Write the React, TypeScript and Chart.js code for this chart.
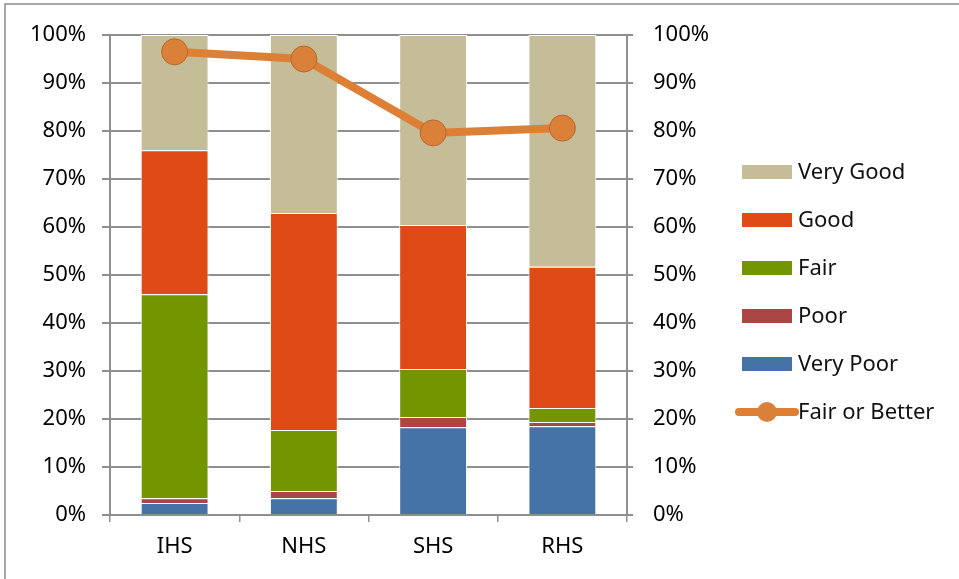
import React, { useEffect, useRef } from "react";
import { Chart, registerables } from "chart.js";

Chart.register(...registerables);

const categories = ["IHS", "NHS", "SHS", "RHS"];
const veryPoor = [2.5, 3.5, 18.3, 18.5];
const poor = [1.0, 1.5, 2.1, 0.9];
const fair = [42.5, 12.7, 10.0, 2.9];
const good = [30.0, 45.2, 30.0, 29.4];
const veryGood = [24.0, 37.1, 39.6, 48.3];
const fairOrBetter = [96.5, 95.0, 79.6, 80.6];
const tickValues = [0, 10, 20, 30, 40, 50, 60, 70, 80, 90, 100];

const seriesNames = ["Very Good", "Good", "Fair", "Poor", "Very Poor", "Fair or Better"];
const seriesColors = ["#C4BD97", "#DF4A16", "#739500", "#AA4643", "#4572A7", "#DE7F36"];

const FONT = "'Noto Sans', 'Open Sans', sans-serif";

const framePlugin = {
  id: "frame",
  beforeDraw(chart: any) {
    const ctx = chart.ctx;
    ctx.save();
    ctx.strokeStyle = "#8a8a8a";
    ctx.lineWidth = 1.5;
    ctx.beginPath();
    ctx.moveTo(5, 600);
    ctx.lineTo(5, 4);
    ctx.lineTo(970, 4);
    ctx.stroke();
    ctx.restore();
  },
};

const legendPlugin = {
  id: "customLegend",
  afterDraw(chart: any) {
    const ctx = chart.ctx;
    ctx.save();
    const x0 = 742;
    const y0 = 172;
    const step = 48;
    ctx.font = `22px ${FONT}`;
    ctx.textBaseline = "middle";
    ctx.textAlign = "left";
    seriesNames.forEach((name, i) => {
      const y = y0 + i * step;
      if (i < 5) {
        ctx.fillStyle = seriesColors[i];
        ctx.fillRect(x0, y - 7, 50, 14);
      } else {
        ctx.strokeStyle = seriesColors[i];
        ctx.lineWidth = 8;
        ctx.lineCap = "round";
        ctx.beginPath();
        ctx.moveTo(x0 - 3, y);
        ctx.lineTo(x0 + 53, y);
        ctx.stroke();
        ctx.fillStyle = "#DB8038";
        ctx.beginPath();
        ctx.arc(x0 + 25, y, 10, 0, Math.PI * 2);
        ctx.fill();
      }
      ctx.fillStyle = "#111";
      ctx.fillText(name, 798, y + 1);
    });
    ctx.restore();
  },
};

export default function App() {
  const ref = useRef<HTMLCanvasElement>(null);
  useEffect(() => {
    if (!ref.current) return;
    const pct = (v: any) => `${v}%`;
    const chart = new Chart(ref.current, {
      type: "bar",
      data: {
        labels: categories,
        datasets: [
          {
            type: "line",
            label: seriesNames[5],
            data: fairOrBetter,
            yAxisID: "y1",
            borderColor: seriesColors[5],
            borderWidth: 8,
            backgroundColor: "#DB8038",
            pointBackgroundColor: "#DB8038",
            pointBorderColor: "#B8672E",
            pointBorderWidth: 1,
            pointRadius: 13,
            tension: 0,
          } as any,
          { label: seriesNames[4], data: veryPoor, backgroundColor: seriesColors[4] },
          { label: seriesNames[3], data: poor, backgroundColor: seriesColors[3] },
          { label: seriesNames[2], data: fair, backgroundColor: seriesColors[2] },
          { label: seriesNames[1], data: good, backgroundColor: seriesColors[1] },
          { label: seriesNames[0], data: veryGood, backgroundColor: seriesColors[0] },
        ].map((d: any) =>
          d.type === "line"
            ? d
            : { ...d, borderColor: "#ffffff", borderWidth: 1, barPercentage: 0.525, categoryPercentage: 1 }
        ),
      },
      options: {
        animation: false,
        responsive: false,
        layout: { padding: { left: 0, top: 35, right: 242, bottom: 0 } },
        plugins: { legend: { display: false }, tooltip: { enabled: false } },
        scales: {
          x: {
            stacked: true,
            grid: {
              offset: true,
              drawOnChartArea: false,
              drawTicks: true,
              tickLength: 7,
              color: "#8f8f8f",
              lineWidth: 1.5,
            },
            border: { display: false },
            ticks: { color: "#000", font: { family: FONT, size: 22 }, padding: 12 },
            afterFit(scale: any) {
              scale.height = 64;
            },
          },
          y: {
            stacked: true,
            min: 0,
            max: 100,
            afterBuildTicks(scale: any) {
              scale.ticks = tickValues.map((v) => ({ value: v }));
            },
            grid: { color: "#8f8f8f", lineWidth: 2, tickLength: 8 },
            border: { display: true, color: "#8f8f8f", width: 2 },
            ticks: { color: "#000", font: { family: FONT, size: 22 }, padding: 16, callback: pct },
            afterFit(scale: any) {
              scale.width = 110;
            },
          },
          y1: {
            position: "right",
            min: 0,
            max: 100,
            afterBuildTicks(scale: any) {
              scale.ticks = tickValues.map((v) => ({ value: v }));
            },
            grid: {
              display: true,
              drawOnChartArea: false,
              drawTicks: true,
              tickLength: 6,
              tickColor: "#8f8f8f",
              lineWidth: 2,
            },
            border: { display: true, color: "#8f8f8f", width: 2 },
            ticks: { color: "#000", font: { family: FONT, size: 22 }, padding: 20, callback: pct },
            afterFit(scale: any) {
              scale.width = 90;
            },
          },
        },
      },
      plugins: [framePlugin, legendPlugin],
    });
    return () => chart.destroy();
  }, []);
  return (
    <div style={{ position: "fixed", left: 0, top: 0, width: 959, height: 579, background: "#fff" }}>
      <canvas ref={ref} width={959} height={579} style={{ display: "block" }} />
    </div>
  );
}
